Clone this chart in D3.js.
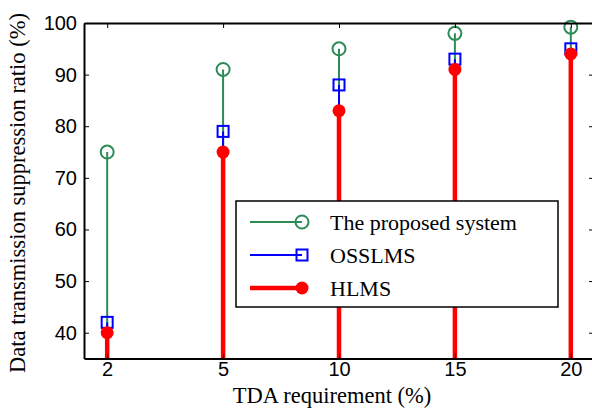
<!DOCTYPE html>
<html>
<head>
<meta charset="utf-8">
<script src="https://cdn.jsdelivr.net/npm/d3@7"></script>
<style>
body { margin: 0; background: #fff; }
</style>
</head>
<body>
<div id="chart"></div>
<script>
var categories = ["2", "5", "10", "15", "20"];
var proposed = [75, 91, 95, 98, 99.2];
var osslms = [42, 79, 88, 93, 95];
var hlms = [40, 75, 83, 91, 94];
var yTicks = [40, 50, 60, 70, 80, 90, 100];

var width = 592, height = 416;
var plotLeft = 84, plotRight = 594, plotTop = 23, plotBottom = 358.5;

var serif = "'Liberation Serif', 'Times New Roman', serif";
var sans = "'Liberation Sans', Arial, sans-serif";

var svg = d3.select("#chart").append("svg")
  .attr("width", width)
  .attr("height", height);

var x = d3.scaleLinear().domain([0.8, 5.2]).range([plotLeft, plotRight]);
var y = d3.scaleLinear().domain([35, 100]).range([plotBottom, plotTop]);

// series, drawn back to front
var series = [
  {name: "The proposed system", values: proposed, color: "#2e8b57", width: 2, marker: "circle"},
  {name: "OSSLMS", values: osslms, color: "#0000ff", width: 2, marker: "square"},
  {name: "HLMS", values: hlms, color: "#ff0000", width: 4.5, marker: "dot"}
];

function drawMarker(g, type, cx, cy, color) {
  if (type == "circle") {
    g.append("circle").attr("cx", cx).attr("cy", cy).attr("r", 6.5)
      .attr("fill", "none").attr("stroke", color).attr("stroke-width", 2);
  } else if (type == "square") {
    g.append("rect").attr("x", cx - 5.5).attr("y", cy - 5.5)
      .attr("width", 11).attr("height", 11)
      .attr("fill", "none").attr("stroke", color).attr("stroke-width", 2);
  } else {
    g.append("circle").attr("cx", cx).attr("cy", cy).attr("r", 6.5)
      .attr("fill", color);
  }
}

series.forEach(function(s) {
  var g = svg.append("g");
  s.values.forEach(function(v, i) {
    g.append("line")
      .attr("x1", x(i + 1)).attr("x2", x(i + 1))
      .attr("y1", y(35)).attr("y2", y(v))
      .attr("stroke", s.color).attr("stroke-width", s.width);
  });
  s.values.forEach(function(v, i) {
    drawMarker(g, s.marker, x(i + 1), y(v), s.color);
  });
});

// axes, ticks pointing inward
var axisL = svg.append("g").attr("transform", "translate(" + plotLeft + ",0)")
  .call(d3.axisLeft(y).tickValues(yTicks).tickSizeInner(-5).tickSizeOuter(0).tickPadding(7));
var axisR = svg.append("g").attr("transform", "translate(" + plotRight + ",0)")
  .call(d3.axisRight(y).tickValues(yTicks).tickSizeInner(-5).tickSizeOuter(0).tickFormat(""));
var axisB = svg.append("g").attr("transform", "translate(0," + plotBottom + ")")
  .call(d3.axisBottom(x).tickValues([1, 2, 3, 4, 5]).tickSizeInner(-5).tickSizeOuter(0).tickPadding(3)
    .tickFormat(function(d) { return categories[d - 1]; }));
var axisT = svg.append("g").attr("transform", "translate(0," + plotTop + ")")
  .call(d3.axisTop(x).tickValues([1, 2, 3, 4, 5]).tickSizeInner(-5).tickSizeOuter(0).tickFormat(""));

[axisL, axisR, axisB, axisT].forEach(function(a) {
  a.selectAll("path").attr("stroke", "#000").attr("stroke-width", 2);
  a.selectAll("line").attr("stroke", "#000").attr("stroke-width", 1);
  a.selectAll("text").attr("fill", "#000").style("font-family", sans).style("font-size", "20px");
});

// axis labels
svg.append("text")
  .attr("x", 332).attr("y", 403)
  .attr("text-anchor", "middle")
  .style("font-family", serif)
  .style("font-size", "22.5px")
  .text("TDA requirement (%)");

svg.append("text")
  .attr("transform", "translate(25,193) rotate(-90)")
  .attr("text-anchor", "middle")
  .style("font-family", serif)
  .style("font-size", "22.5px")
  .text("Data transmission suppression ratio (%)");

// legend
var legend = svg.append("g").attr("transform", "translate(236,201)");
legend.append("rect").attr("width", 322).attr("height", 106)
  .attr("fill", "#fff").attr("stroke", "#000").attr("stroke-width", 1.5);
series.forEach(function(s, i) {
  var ly = 21 + i * 33;
  legend.append("line").attr("x1", 14).attr("x2", 66).attr("y1", ly).attr("y2", ly)
    .attr("stroke", s.color).attr("stroke-width", s.width);
  drawMarker(legend, s.marker, 66, ly, s.color);
  legend.append("text").attr("x", 94).attr("y", ly + 7.5)
    .style("font-family", serif)
    .style("font-size", "22px")
    .text(s.name);
});
</script>
</body>
</html>
